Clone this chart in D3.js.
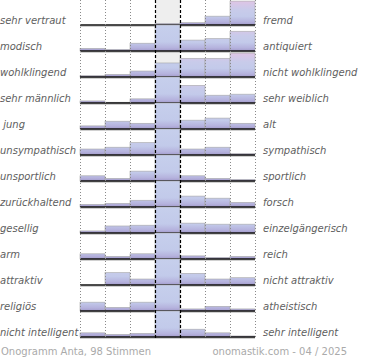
<!DOCTYPE html>
<html><head><meta charset="utf-8">
<script src="https://cdn.jsdelivr.net/npm/d3@7"></script>
<style>
html,body{margin:0;padding:0;background:#fff;}
svg{display:block;}
text{font-family:"DejaVu Sans",sans-serif;white-space:pre;}
</style></head>
<body>
<script>
// ---- data ----
const leftLabels = ["sehr vertraut","modisch","wohlklingend","sehr männlich"," jung","unsympathisch","unsportlich","zurückhaltend","gesellig","arm","attraktiv","religiös","nicht intelligent"];
const rightLabels = ["fremd","antiquiert","nicht wohlklingend","sehr weiblich","alt","sympathisch","sportlich","forsch","einzelgängerisch","reich","nicht attraktiv","atheistisch","sehr intelligent"];
const steps = [1,2,3,4,5,6,7];
// relative share per answer step (percent), center step is cut at the row height
const row01 = [0,0,0,3,4.5,17,46];
const row02 = [5,3,15,60,21,24,38];
const row03 = [2.5,5,11.5,27,36,36,46];
const row04 = [4,1.5,8,60,34,15,17];
const row05 = [6,15,11,60,17,21,11];
const row06 = [11.5,15,24,60,11.5,15,2.5];
const row07 = [10,5,19,60,10,5,3];
const row08 = [5,7,13,60,21,17,9];
const row09 = [4,13.5,15,60,19,17,17];
const row10 = [10,5,10,60,6,3,5];
const row11 = [0,24,11.5,60,22.5,11.5,14];
const row12 = [17,7,17,60,4,9,4];
const row13 = [8,5,7,60,15,8,2];
const rows = [row01,row02,row03,row04,row05,row06,row07,row08,row09,row10,row11,row12,row13];
const footerLeft = "Onogramm Anta, 98 Stimmen";
const footerRight = "onomastik.com - 04 / 2025";

// ---- layout ----
const W = 370, H = 360;
const plotX0 = 80, plotX1 = 255;
const rowH = 26, firstBase = 25;

const svg = d3.select("body").append("svg").attr("width", W).attr("height", H);

const x = d3.scaleBand().domain(steps).range([plotX0, plotX1]).padding(0);
const rowScale = d3.scaleBand().domain(d3.range(rows.length)).range([firstBase - rowH, firstBase - rowH + rowH * rows.length]).padding(0);
const y = d3.scaleLinear().domain([0, 50]).range([rowH, 0]).clamp(true);

const defs = svg.append("defs");
const g1 = defs.append("linearGradient").attr("id","gSide").attr("gradientUnits","userSpaceOnUse")
  .attr("x1",0).attr("x2",0).attr("y1",rowH).attr("y2",0);
[[0,"#a29acb"],[0.12,"#b5b2dd"],[0.33,"#c3caea"],[0.58,"#c8cbea"],[1,"#e4c3e4"]].forEach(s=>g1.append("stop").attr("offset",s[0]).attr("stop-color",s[1]));
const g2 = defs.append("linearGradient").attr("id","gCenter").attr("gradientUnits","userSpaceOnUse")
  .attr("x1",0).attr("x2",0).attr("y1",rowH).attr("y2",0);
[[0,"#a29acb"],[0.12,"#b5b2dd"],[0.35,"#c2caea"],[1,"#c6cfec"]].forEach(s=>g2.append("stop").attr("offset",s[0]).attr("stop-color",s[1]));

const plotTop = 0, plotBottom = firstBase + rowH * (rows.length - 1) + 1;

// center column background
svg.append("rect").attr("x", x(4)).attr("y", plotTop).attr("width", x.bandwidth())
  .attr("height", plotBottom - plotTop).attr("fill", "#eeeeee");

// rows
const rowG = svg.selectAll("g.row").data(rows).join("g").attr("class","row")
  .attr("transform", (d,i)=>`translate(0,${rowScale(i)})`);

rowG.selectAll("rect.bar").data(d=>d.map((v,j)=>({v, step: steps[j]})).filter(e=>e.v>0)).join("rect")
  .attr("class","bar")
  .attr("x", e=>x(e.step)).attr("width", x.bandwidth())
  .attr("y", e=>y(e.v)).attr("height", e=>rowH - y(e.v))
  .attr("fill", e=>e.step===4 ? "url(#gCenter)" : "url(#gSide)")
  .attr("stroke", "#a8a8a8").attr("stroke-width", 0.6);

// grid lines
const bounds = [plotX0, x(2), x(3), x(4), x(5), x(6), x(7), plotX1];
svg.selectAll("line.grid").data(bounds.filter((b,i)=>i!==3 && i!==4)).join("line")
  .attr("x1", d=>d+0.5).attr("x2", d=>d+0.5).attr("y1", plotTop).attr("y2", plotBottom)
  .attr("stroke", "#8a8a8a").attr("stroke-width", 1).attr("stroke-dasharray", "1,2");
svg.selectAll("line.dash").data([x(4), x(5)]).join("line")
  .attr("x1", d=>d+0.5).attr("x2", d=>d+0.5).attr("y1", plotTop).attr("y2", plotBottom)
  .attr("stroke", "#000").attr("stroke-width", 1.2).attr("stroke-dasharray", "3,2");

// baselines
rowG.append("line").attr("x1", plotX0).attr("x2", plotX1).attr("y1", rowH + 1.2).attr("y2", rowH + 1.2)
  .attr("stroke", "#bbb").attr("stroke-width", 1);
rowG.append("line").attr("x1", plotX0).attr("x2", plotX1).attr("y1", rowH).attr("y2", rowH)
  .attr("stroke", "#111").attr("stroke-width", 1.5);

// labels
rowG.append("text").attr("x", 0).attr("y", rowH - 1)
  .attr("font-size", 10).attr("font-style","italic").attr("fill","#606060")
  .text((d,i)=>leftLabels[i]);
rowG.append("text").attr("x", 263).attr("y", rowH - 1)
  .attr("font-size", 10).attr("font-style","italic").attr("fill","#606060")
  .text((d,i)=>rightLabels[i]);

// footer
svg.append("text").attr("x", 1).attr("y", 355).attr("font-size", 10).attr("fill","#aaa").text(footerLeft);
svg.append("text").attr("x", 347).attr("y", 355).attr("text-anchor","end").attr("font-size", 10).attr("fill","#aaa").text(footerRight);
</script>
</body></html>
